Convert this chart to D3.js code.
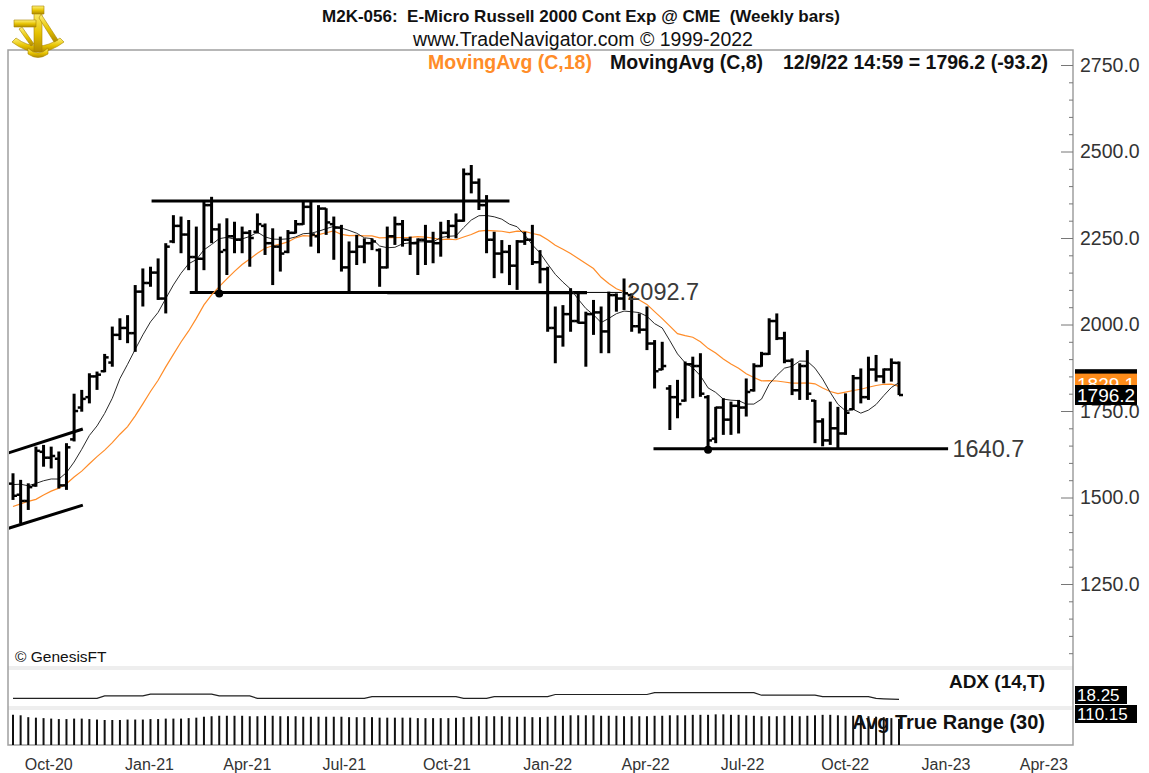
<!DOCTYPE html>
<html><head><meta charset="utf-8">
<script src="https://cdn.jsdelivr.net/npm/d3@7"></script>
<style>
html,body{margin:0;padding:0;background:#fff;}
svg{display:block;font-family:"Liberation Sans",Arial,sans-serif;}
</style></head><body>
<svg id="chart" width="1149" height="773"></svg>
<script>
// ---------------- DATA ----------------
const dates = [
"2020-09-18","2020-09-25","2020-10-02","2020-10-09","2020-10-16","2020-10-23","2020-10-30","2020-11-06","2020-11-13","2020-11-20","2020-11-27","2020-12-04","2020-12-11","2020-12-18","2020-12-25",
"2021-01-01","2021-01-08","2021-01-15","2021-01-22","2021-01-29","2021-02-05","2021-02-12","2021-02-19","2021-02-26","2021-03-05","2021-03-12","2021-03-19","2021-03-26","2021-04-02","2021-04-09","2021-04-16","2021-04-23","2021-04-30","2021-05-07","2021-05-14","2021-05-21","2021-05-28","2021-06-04","2021-06-11","2021-06-18","2021-06-25","2021-07-02","2021-07-09","2021-07-16","2021-07-23","2021-07-30","2021-08-06","2021-08-13","2021-08-20","2021-08-27","2021-09-03","2021-09-10","2021-09-17","2021-09-24","2021-10-01","2021-10-08","2021-10-15","2021-10-22","2021-10-29","2021-11-05","2021-11-12","2021-11-19","2021-11-26","2021-12-03","2021-12-10","2021-12-17","2021-12-24","2021-12-31",
"2022-01-07","2022-01-14","2022-01-21","2022-01-28","2022-02-04","2022-02-11","2022-02-18","2022-02-25","2022-03-04","2022-03-11","2022-03-18","2022-03-25","2022-04-01","2022-04-08","2022-04-15","2022-04-22","2022-04-29","2022-05-06","2022-05-13","2022-05-20","2022-05-27","2022-06-03","2022-06-10","2022-06-17","2022-06-24","2022-07-01","2022-07-08","2022-07-15","2022-07-22","2022-07-29","2022-08-05","2022-08-12","2022-08-19","2022-08-26","2022-09-02","2022-09-09","2022-09-16","2022-09-23","2022-09-30","2022-10-07","2022-10-14","2022-10-21","2022-10-28","2022-11-04","2022-11-11","2022-11-18","2022-11-25","2022-12-02","2022-12-09"];

const openP = [1540,1508,1490,1535,1632,1615,1612,1535,1668,1760,1790,1850,1865,1890,1970,
1990,1975,2095,2120,2150,2075,2240,2285,2260,2195,2190,2345,2275,2215,2255,2245,2265,2268,2285,2235,2225,2210,2265,2290,2340,2255,2335,2290,2280,2165,2210,2225,2235,2215,2165,2255,2290,2245,2235,2245,2240,2235,2265,2285,2300,2435,2410,2345,2245,2205,2210,2170,2240,
2245,2180,2160,1990,1965,2030,2010,2005,2030,2035,1980,2085,2075,2085,1995,1985,1945,1870,1815,1790,1780,1885,1880,1790,1670,1760,1725,1765,1760,1810,1880,1915,2010,1960,1895,1810,1880,1780,1720,1665,1700,1685,1755,1845,1790,1870,1850,1870,1889];
const highP = [1570,1551,1541,1647,1652,1647,1633,1657,1800,1811,1859,1864,1915,1994,2018,
2027,2114,2162,2167,2191,2235,2316,2312,2302,2283,2355,2369,2292,2307,2297,2283,2273,2321,2292,2278,2254,2273,2302,2355,2355,2345,2336,2312,2288,2240,2259,2249,2249,2220,2283,2312,2302,2254,2249,2288,2268,2297,2302,2321,2451,2461,2422,2374,2268,2244,2230,2244,2268,
2288,2215,2167,2052,2056,2105,2095,2037,2071,2052,2095,2090,2133,2090,2032,2052,1955,1950,1825,1840,1893,1907,1917,1796,1762,1787,1777,1782,1844,1888,1921,2018,2032,1979,1902,1888,1926,1782,1729,1777,1762,1801,1854,1873,1907,1912,1873,1902,1893];
const lowP = [1493,1425,1464,1531,1589,1584,1526,1522,1662,1748,1772,1811,1862,1878,1955,
1946,1921,2052,2109,2071,2032,2235,2206,2157,2095,2157,2235,2092.7,2143,2206,2206,2167,2263,2201,2114,2153,2206,2263,2288,2225,2206,2259,2187,2153,2095,2172,2177,2215,2109,2162,2230,2225,2201,2143,2172,2177,2196,2249,2249,2297,2379,2331,2206,2134,2148,2114,2100,2230,
2172,2119,1979,1888,1936,1979,2003,1878,1970,1917,1917,2037,2042,1979,1974,1926,1815,1868,1695,1729,1777,1787,1791,1640.7,1657,1681,1681,1685,1734,1806,1878,1912,1955,1888,1796,1782,1782,1657,1648,1652,1641,1681,1753,1772,1782,1835,1830,1835,1796];
const closeP = [1505,1490,1530,1635,1615,1620,1535,1645,1750,1785,1850,1855,1905,1970,1990,
1975,2095,2120,2150,2075,2225,2285,2260,2195,2190,2345,2275,2210,2255,2245,2265,2250,2290,2235,2225,2205,2265,2290,2340,2260,2335,2295,2280,2165,2210,2225,2235,2240,2165,2255,2290,2245,2235,2245,2240,2235,2265,2285,2300,2435,2410,2345,2245,2205,2210,2170,2240,2245,
2180,2160,1990,1965,2030,2010,2005,2030,2035,1980,2085,2075,2090,1995,1985,1945,1865,1880,1790,1770,1885,1880,1800,1665,1760,1725,1765,1760,1805,1880,1915,2010,1960,1895,1810,1880,1800,1720,1665,1700,1685,1745,1845,1790,1870,1850,1870,1889.4,1796.2];
// closes of the 17 weeks before the first bar (feed the moving averages)
const warmupCloses = [1355,1394,1535,1387,1418,1380,1414,1403,1480,1467,1480,1568,1579,1554,1579,1536,1497];

const adxValues = [21,21,21,21,21,21,21,21,21,21,21,21, 28,28,28,28,28,28, 33,33,33,33,33,33,33,33,33, 28,28,28,28,28,
21,21,21,21,21,21,21,21,21,21,21,21,21,21,21, 26,26,26,26,26,26,26,26,26,26,26,26, 21,21,21,21, 26,26,26,26,26,26,26,26,
32,32,32,32,32,32,32,32,32,32,32,32,32, 37,37,37,37,37,37,37,37,37,37,37,37,37,37, 30,30,30,30,30,30,30,30, 26,26,26,26,26,26,26, 21,20,19,18.25];
const atrValues = [128,126,118,116,114,112,110,110,112,112,110,
108,106,106,106,108,108,108,110,110,112,112,112,114,116,
120,122,124,124,124,124,122,122,124,124,122,122,122,120,120,120,120,120,120,118,118,118,118,116,116,116,
116,116,114,114,114,114,114,116,118,120,122,122,122,122,120,120,120,118,118,120,124,124,126,126,126,126,124,124,124,122,
122,122,122,124,124,126,126,126,128,128,128,130,130,128,128,126,124,122,122,122,124,124,122,124,126,128,128,126,124,124,124,122,120,118,114,110.15];

const priceTicks = [1250,1500,1750,2000,2250,2500,2750];
const monthTicks = ["2020-10-01","2021-01-01","2021-04-01","2021-07-01","2021-10-01","2022-01-01","2022-04-01","2022-07-01","2022-10-01","2023-01-01","2023-04-01"];
// drawn trend / support lines : [startDate, startValue, endDate, endValue, weight]
const trendLines = [
 ["2021-01-23",2357,"2021-12-17",2357,3],
 ["2021-02-27",2092.7,"2022-02-26",2092.7,3],
 ["2021-08-27",2091.5,"2022-02-26",2091.5,3],
 ["2022-02-26",2092.7,"2022-03-30",2092.7,1],
 ["2022-04-28",1640.7,"2023-01-23",1640.7,3],
 ["2020-09-13",1628,"2020-11-21",1698,3],
 ["2020-09-13",1410,"2020-11-21",1478,3]
];
const markers = [["2021-03-26",2092.7],["2022-06-17",1640.7]];
const levelLabels = [["2022-04-04",2092.7,"2092.7"],["2023-01-27",1640.7,"1640.7"]];

// ---------------- SETUP ----------------
const parse = d3.timeParse("%Y-%m-%d");
const D = dates.map(parse);
const bars = D.map((d,i)=>({d,o:openP[i],h:highP[i],l:lowP[i],c:closeP[i]}));

function sma(n){
  const all = warmupCloses.concat(closeP);
  const off = warmupCloses.length;
  return closeP.map((_,i)=>{
    const j = i+off; const s = Math.max(0,j-n+1);
    return d3.mean(all.slice(s,j+1));
  });
}
const ma18 = sma(18), ma8 = sma(8);

const svg = d3.select("#chart");
const L = 8, R = 1073, T = 50, B = 745;
const mainBottom = 666;
const narrow = "'Liberation Sans Narrow','Arial Narrow','Liberation Sans',sans-serif";

const x = d3.scaleTime().domain([D[0], D[D.length-1]]).range([13, 899]);
const y = d3.scaleLinear().domain([1250, 2750]).range([584, 65]);
const yAdx = d3.scaleLinear().domain([0,100]).range([706,670]);
const yAtr = d3.scaleLinear().domain([0,140]).range([745,712]);

const defs = svg.append("defs");
defs.append("clipPath").attr("id","mainClip").append("rect").attr("x",L+1).attr("y",T+1).attr("width",R-L-2).attr("height",mainBottom-T-1);
const goldGrad = defs.append("linearGradient").attr("id","gold").attr("x1",0).attr("y1",0).attr("x2",0).attr("y2",1);
goldGrad.append("stop").attr("offset","0%").attr("stop-color","#fff27a");
goldGrad.append("stop").attr("offset","55%").attr("stop-color","#e6c200");
goldGrad.append("stop").attr("offset","100%").attr("stop-color","#b08a00");

// panel separators
svg.append("rect").attr("x",L).attr("y",mainBottom).attr("width",R-L).attr("height",4).attr("fill","#eeeeee");
svg.append("rect").attr("x",L).attr("y",706).attr("width",R-L).attr("height",4).attr("fill","#eeeeee");

// frame
svg.append("path").attr("d",`M${L},${T}H${R}V${B}H${L}Z`).attr("fill","none").attr("stroke","#a0a0a0").attr("stroke-width",1.5);

// header
svg.append("text").attr("x",581).attr("y",22).attr("text-anchor","middle")
  .attr("font-weight","bold").attr("font-size",17).attr("fill","#111").attr("xml:space","preserve")
  .text("M2K-056:  E-Micro Russell 2000 Cont Exp @ CME  (Weekly bars)");
svg.append("text").attr("x",583).attr("y",46).attr("text-anchor","middle")
  .attr("font-family",narrow).attr("font-size",19.5).attr("fill","#111").text("www.TradeNavigator.com © 1999-2022");
const lg = svg.append("g").attr("font-family",narrow).attr("font-weight","bold").attr("font-size",19.5);
lg.append("text").attr("x",428).attr("y",69).attr("fill","#ff8c28").text("MovingAvg (C,18)");
lg.append("text").attr("x",610).attr("y",69).attr("fill","#111").text("MovingAvg (C,8)");
lg.append("text").attr("x",783).attr("y",69).attr("fill","#111")
  .text(`12/9/22 14:59 = ${closeP[closeP.length-1].toFixed(1)} (${(closeP[closeP.length-1]-closeP[closeP.length-2]).toFixed(1)})`);

// logo (sextant)
const logo = svg.append("g").attr("transform","translate(8,4)");
const lp = (d)=>logo.append("path").attr("d",d).attr("fill","url(#gold)").attr("stroke","#a88400").attr("stroke-width",0.6);
lp("M4,38 Q30,58 56,38 L52,34 Q30,50 8,34 Z");
lp("M26,6 L34,6 L34,48 L26,48 Z");
lp("M24,2 L36,2 L36,10 L24,10 Z");
lp("M6,16 L28,16 L28,23 L6,23 Z");
lp("M33,10 L50,36 L46,38 L31,14 Z");
lp("M14,23 L26,40 L23,42 L11,25 Z");
lp("M20,44 Q30,54 40,44 L40,50 Q30,57 20,50 Z");

// main panel content
const main = svg.append("g").attr("clip-path","url(#mainClip)");

main.selectAll("line.trend").data(trendLines).join("line").attr("class","trend")
  .attr("x1",d=>x(parse(d[0]))).attr("y1",d=>y(d[1]))
  .attr("x2",d=>x(parse(d[2]))).attr("y2",d=>y(d[3]))
  .attr("stroke","#000").attr("stroke-width",d=>d[4]);

const lineGen = d3.line().x((d,i)=>x(D[i])).y(d=>y(d));
main.append("path").attr("d",lineGen(ma18)).attr("fill","none").attr("stroke","#ff8c28").attr("stroke-width",1.2);
main.append("path").attr("d",lineGen(ma8)).attr("fill","none").attr("stroke","#2a2a2a").attr("stroke-width",1);

const bg = main.append("g").attr("stroke","#000");
bg.selectAll("line.hl").data(bars).join("line").attr("class","hl")
  .attr("x1",d=>x(d.d)).attr("x2",d=>x(d.d)).attr("y1",d=>y(d.h)).attr("y2",d=>y(d.l)).attr("stroke-width",3);
bg.selectAll("line.op").data(bars).join("line").attr("class","op")
  .attr("x1",d=>x(d.d)-4).attr("x2",d=>x(d.d)).attr("y1",d=>y(d.o)).attr("y2",d=>y(d.o)).attr("stroke-width",2.5);
bg.selectAll("line.cl").data(bars).join("line").attr("class","cl")
  .attr("x1",d=>x(d.d)).attr("x2",d=>x(d.d)+4).attr("y1",d=>y(d.c)).attr("y2",d=>y(d.c)).attr("stroke-width",2.5);

main.selectAll("circle.mk").data(markers).join("circle").attr("class","mk")
  .attr("cx",d=>x(parse(d[0]))).attr("cy",d=>y(d[1])+1).attr("r",4).attr("fill","#000");
main.selectAll("text.lvl").data(levelLabels).join("text").attr("class","lvl")
  .attr("x",d=>x(parse(d[0]))).attr("y",d=>y(d[1])+8).attr("font-size",23.5).attr("fill","#3a3a3a").text(d=>d[2]);

svg.append("text").attr("x",15).attr("y",662).attr("font-size",15.5).attr("fill","#111").text("© GenesisFT");

// right price axis
const axR = svg.append("g").attr("transform",`translate(${R},0)`)
  .call(d3.axisRight(y).tickValues(priceTicks).tickSizeInner(-12).tickSizeOuter(0).tickPadding(7).tickFormat(d3.format(".1f")));
axR.select(".domain").remove();
axR.selectAll("line").attr("stroke","#777");
axR.selectAll("text").attr("font-size",19.5).attr("fill","#333").attr("font-family","'Liberation Sans',Arial,sans-serif");
const minorVals = d3.range(1050, 2800, 50).filter(v=>!priceTicks.includes(v));
svg.append("g").attr("transform",`translate(${R},0)`)
  .call(d3.axisRight(y).tickValues(minorVals).tickSize(-4).tickFormat(""))
  .call(g=>g.select(".domain").remove())
  .selectAll("line").attr("stroke","#777");

// price tags (MA8 tag hidden behind the others, as in the source)
function tag(val, fill, txtFill, showText){
  const g = svg.append("g");
  g.append("rect").attr("x",R+2).attr("y",y(val)-10).attr("width",62).attr("height",20).attr("fill",fill);
  if (showText) g.append("text").attr("x",R+4).attr("y",y(val)+7).attr("font-size",19).attr("fill",txtFill).text(val.toFixed(1));
}
tag(ma8[ma8.length-1]+10, "#000", "#fff", false);
tag(ma18[ma18.length-1]+8, "#ff8c1a", "#fff", true);
tag(closeP[closeP.length-1], "#000", "#fff", true);

// ADX panel
svg.append("path").attr("d", d3.line().x((d,i)=>x(D[i])).y(d=>yAdx(d))(adxValues))
  .attr("fill","none").attr("stroke","#222").attr("stroke-width",1.2);
svg.append("text").attr("x",1045).attr("y",688).attr("text-anchor","end").attr("font-weight","bold")
  .attr("font-size",19).attr("font-family",narrow).attr("fill","#111").text("ADX (14,T)");
svg.append("rect").attr("x",R+2).attr("y",686).attr("width",52).attr("height",18).attr("fill","#000");
svg.append("text").attr("x",R+4).attr("y",701).attr("font-size",17).attr("font-family",narrow).attr("fill","#fff").text(adxValues[adxValues.length-1].toFixed(2));

// ATR panel
svg.append("g").selectAll("line").data(atrValues).join("line")
  .attr("x1",(d,i)=>x(D[i])).attr("x2",(d,i)=>x(D[i]))
  .attr("y1",yAtr(0)).attr("y2",d=>yAtr(d)).attr("stroke","#111").attr("stroke-width",2);
svg.append("text").attr("x",1045).attr("y",729).attr("text-anchor","end").attr("font-weight","bold")
  .attr("font-size",20).attr("font-family",narrow).attr("fill","#111").text("Avg True Range (30)");
svg.append("rect").attr("x",R+2).attr("y",705).attr("width",62).attr("height",18).attr("fill","#000");
svg.append("text").attr("x",R+4).attr("y",720).attr("font-size",17).attr("font-family",narrow).attr("fill","#fff").text(atrValues[atrValues.length-1].toFixed(2));

// bottom date axis
const axB = svg.append("g").attr("transform",`translate(0,${B+2})`)
  .call(d3.axisBottom(x).tickValues(monthTicks.map(parse)).tickSize(0).tickPadding(12).tickFormat(d3.timeFormat("%b-%y")));
axB.select(".domain").remove();
axB.selectAll("text").attr("text-anchor","start").attr("dx",-3).attr("font-size",16).attr("fill","#333")
  .attr("font-family","'Liberation Sans',Arial,sans-serif");
</script>
</body></html>
